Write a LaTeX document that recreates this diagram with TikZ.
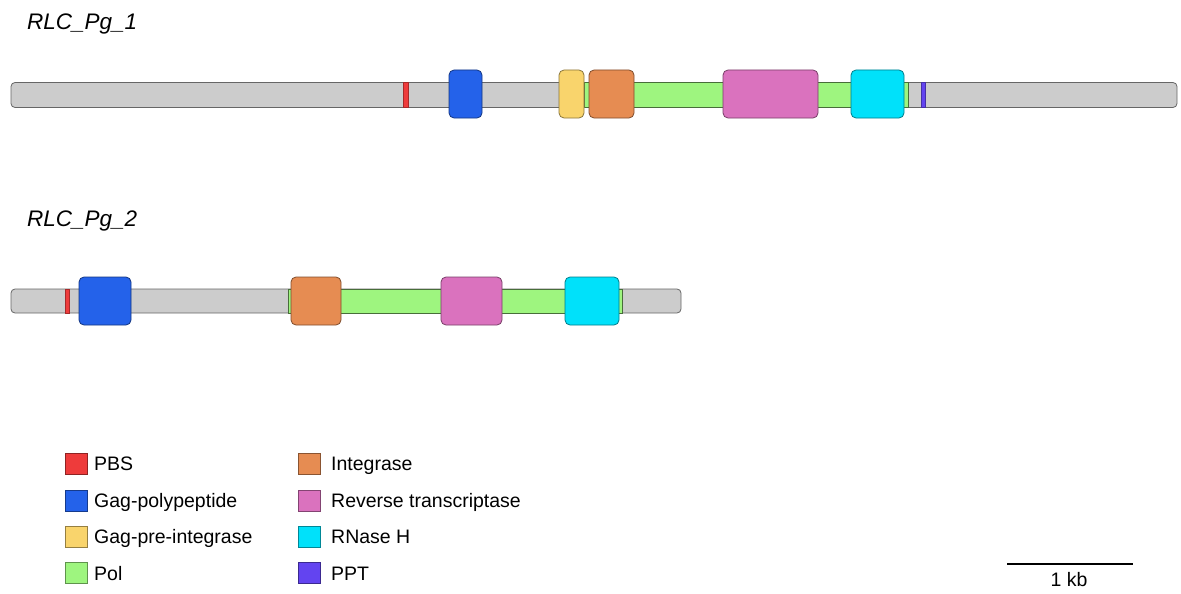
\documentclass[tikz,border=0pt]{standalone}
\usepackage{fontspec}
\setmainfont{Liberation Sans}
\definecolor{cbar}{HTML}{CCCCCC}
\definecolor{cpbs}{HTML}{EE3B3B}
\definecolor{cgag}{HTML}{2462EA}
\definecolor{cgpi}{HTML}{F9D46C}
\definecolor{cpol}{HTML}{9EF57F}
\definecolor{cint}{HTML}{E68C52}
\definecolor{crt}{HTML}{DA72BE}
\definecolor{crh}{HTML}{00E1FA}
\definecolor{cppt}{HTML}{6344F0}
\tikzset{
  track/.style={draw=black!60, fill=cbar, line width=0.8pt, rounded corners=4pt, inner sep=0pt, outer sep=0pt, minimum height=25pt},
  polbar/.style={draw=cpol!45!black, fill=cpol, line width=0.8pt, inner sep=0pt, outer sep=0pt, minimum height=25pt},
  mark1/.style={draw=#1!70!black, fill=#1, line width=0.6pt, inner sep=0pt, outer sep=0pt, minimum height=25pt},
  domain/.style={draw=#1!55!black, fill=#1, line width=0.8pt, rounded corners=5pt, inner sep=0pt, outer sep=0pt, minimum height=48pt},
  swatch/.style={draw=#1!60!black, fill=#1, line width=0.6pt, inner sep=0pt, outer sep=0pt, minimum width=22pt, minimum height=21pt},
  legtext/.style={anchor=base west, inner sep=0pt, font=\fontsize{19.5}{23}\selectfont},
  title/.style={anchor=base west, inner sep=0pt, font=\fontsize{22.5}{26}\selectfont\itshape}
}
\begin{document}
\begin{tikzpicture}[x=1pt,y=-1pt]
\useasboundingbox (0,0) rectangle (1181,594);
% Track 1
\node[title] (t1) at (27,30) {RLC\_Pg\_1};
\node[track, minimum width=1166pt] (bar1) at (594,95) {};
\node[polbar, minimum width=324pt] (pol1) at (746,95) {};
\node[mark1=cpbs, minimum width=5pt] (pbs1) at (405.5,95) {};
\node[mark1=cppt, minimum width=4pt] (ppt1) at (923,95) {};
\node[domain=cgag, minimum width=33pt] (gag1) at (465.5,94) {};
\node[domain=cgpi, minimum width=25pt] (gpi1) at (571.5,94) {};
\node[domain=cint, minimum width=45pt] (int1) at (611.5,94) {};
\node[domain=crt, minimum width=95pt] (rt1) at (770.5,94) {};
\node[domain=crh, minimum width=53pt] (rh1) at (877.5,94) {};
% Track 2
\node[title] (t2) at (27,226) {RLC\_Pg\_2};
\node[track, minimum width=670pt, minimum height=24pt] (bar2) at (346,301) {};
\node[polbar, minimum width=334pt, minimum height=24pt] (pol2) at (455,301) {};
\node[mark1=cpbs, minimum width=4pt, minimum height=24pt] (pbs2) at (67,301) {};
\node[domain=cgag, minimum width=52pt] (gag2) at (105,301) {};
\node[domain=cint, minimum width=50pt] (int2) at (316,301) {};
\node[domain=crt, minimum width=61pt] (rt2) at (471.5,301) {};
\node[domain=crh, minimum width=54pt] (rh2) at (592,301) {};
% Legend column 1
\node[swatch=cpbs] (s1) at (76,463.5) {};
\node[legtext] (l1) at (94,470.5) {PBS};
\node[swatch=cgag] (s2) at (76,500.5) {};
\node[legtext] (l2) at (94,507.5) {Gag-polypeptide};
\node[swatch=cgpi] (s3) at (76,536.5) {};
\node[legtext] (l3) at (94,543.5) {Gag-pre-integrase};
\node[swatch=cpol] (s4) at (76,573) {};
\node[legtext] (l4) at (94,580) {Pol};
% Legend column 2
\node[swatch=cint] (s5) at (309.5,463.5) {};
\node[legtext] (l5) at (331,470.5) {Integrase};
\node[swatch=crt] (s6) at (309.5,500.5) {};
\node[legtext] (l6) at (331,507.5) {Reverse transcriptase};
\node[swatch=crh] (s7) at (309.5,536.5) {};
\node[legtext] (l7) at (331,543.5) {RNase H};
\node[swatch=cppt] (s8) at (309.5,573) {};
\node[legtext] (l8) at (331,580) {PPT};
% Scale bar
\coordinate (sb1) at (1007,564);
\coordinate (sb2) at (1133,564);
\draw[line width=1.5pt] (sb1) -- (sb2);
\node[anchor=base, inner sep=0pt, font=\fontsize{19.5}{23}\selectfont] (kb) at (1069,586) {1 kb};
\end{tikzpicture}
\end{document}
